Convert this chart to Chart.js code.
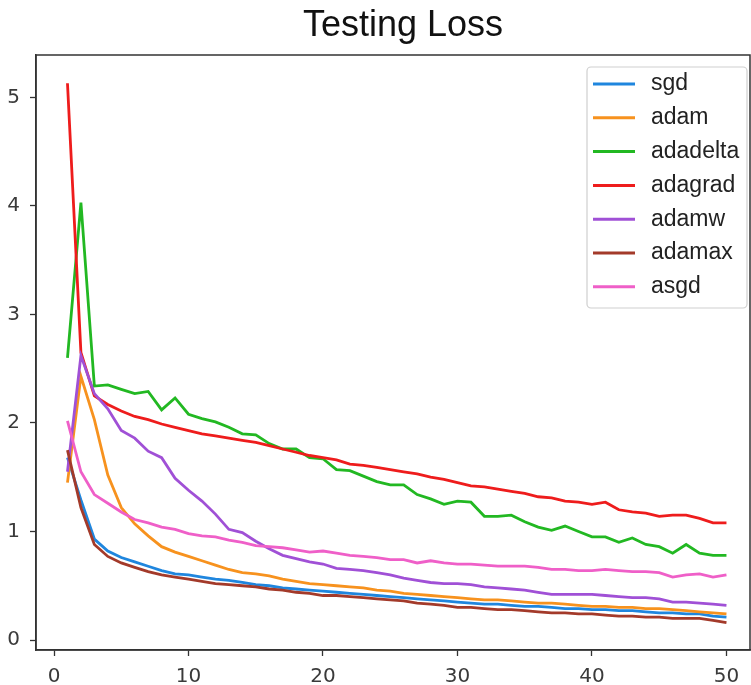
<!DOCTYPE html>
<html>
<head>
<meta charset="utf-8">
<script src="https://cdn.jsdelivr.net/npm/chart.js@4/dist/chart.umd.min.js"></script>
<style>
  html, body { margin: 0; padding: 0; background: #fff; }
  canvas { display: block; }
</style>
</head>
<body>
<canvas id="chart" width="751" height="685"></canvas>
<script>
const epochs = [1, 2, 3, 4, 5, 6, 7, 8, 9, 10, 11, 12, 13, 14, 15, 16, 17, 18, 19, 20,
  21, 22, 23, 24, 25, 26, 27, 28, 29, 30, 31, 32, 33, 34, 35, 36, 37, 38, 39, 40,
  41, 42, 43, 44, 45, 46, 47, 48, 49, 50];

const sgd = [1.68, 1.29, 0.93, 0.82, 0.76, 0.72, 0.68, 0.64, 0.61, 0.60, 0.58, 0.56, 0.55, 0.53, 0.51, 0.50, 0.48, 0.47, 0.46, 0.45,
  0.44, 0.43, 0.42, 0.41, 0.40, 0.39, 0.38, 0.37, 0.36, 0.35, 0.34, 0.33, 0.33, 0.32, 0.31, 0.31, 0.30, 0.29, 0.29, 0.28,
  0.28, 0.27, 0.27, 0.26, 0.25, 0.25, 0.24, 0.24, 0.22, 0.21];
const adam = [1.45, 2.43, 2.03, 1.52, 1.22, 1.07, 0.96, 0.86, 0.81, 0.77, 0.73, 0.69, 0.65, 0.62, 0.61, 0.59, 0.56, 0.54, 0.52, 0.51,
  0.50, 0.49, 0.48, 0.46, 0.45, 0.43, 0.42, 0.41, 0.40, 0.39, 0.38, 0.37, 0.37, 0.36, 0.35, 0.34, 0.34, 0.33, 0.32, 0.31,
  0.31, 0.30, 0.30, 0.29, 0.29, 0.28, 0.27, 0.26, 0.25, 0.24];
const adadelta = [2.60, 4.03, 2.34, 2.35, 2.31, 2.27, 2.29, 2.12, 2.23, 2.08, 2.04, 2.01, 1.96, 1.90, 1.89, 1.81, 1.76, 1.76, 1.68, 1.67,
  1.57, 1.56, 1.51, 1.46, 1.43, 1.43, 1.34, 1.30, 1.25, 1.28, 1.27, 1.14, 1.14, 1.15, 1.09, 1.04, 1.01, 1.05, 1.00, 0.95,
  0.95, 0.90, 0.94, 0.88, 0.86, 0.80, 0.88, 0.80, 0.78, 0.78];
const adagrad = [5.13, 2.65, 2.25, 2.17, 2.11, 2.06, 2.03, 1.99, 1.96, 1.93, 1.90, 1.88, 1.86, 1.84, 1.82, 1.79, 1.76, 1.73, 1.70, 1.68,
  1.66, 1.62, 1.61, 1.59, 1.57, 1.55, 1.53, 1.50, 1.48, 1.45, 1.42, 1.41, 1.39, 1.37, 1.35, 1.32, 1.31, 1.28, 1.27, 1.25,
  1.27, 1.20, 1.18, 1.17, 1.14, 1.15, 1.15, 1.12, 1.08, 1.08];
const adamw = [1.55, 2.62, 2.27, 2.13, 1.93, 1.86, 1.74, 1.68, 1.49, 1.38, 1.28, 1.16, 1.02, 0.99, 0.91, 0.84, 0.78, 0.75, 0.72, 0.70,
  0.66, 0.65, 0.64, 0.62, 0.60, 0.57, 0.55, 0.53, 0.52, 0.52, 0.51, 0.49, 0.48, 0.47, 0.46, 0.44, 0.42, 0.42, 0.42, 0.42,
  0.41, 0.40, 0.39, 0.39, 0.38, 0.35, 0.35, 0.34, 0.33, 0.32];
const adamax = [1.75, 1.22, 0.88, 0.77, 0.71, 0.67, 0.63, 0.60, 0.58, 0.56, 0.54, 0.52, 0.51, 0.50, 0.49, 0.47, 0.46, 0.44, 0.43, 0.41,
  0.41, 0.40, 0.39, 0.38, 0.37, 0.36, 0.34, 0.33, 0.32, 0.30, 0.30, 0.29, 0.28, 0.28, 0.27, 0.26, 0.25, 0.25, 0.24, 0.24,
  0.23, 0.22, 0.22, 0.21, 0.21, 0.20, 0.20, 0.20, 0.18, 0.16];
const asgd = [2.02, 1.55, 1.34, 1.26, 1.18, 1.11, 1.08, 1.04, 1.02, 0.98, 0.96, 0.95, 0.92, 0.90, 0.87, 0.86, 0.85, 0.83, 0.81, 0.82,
  0.80, 0.78, 0.77, 0.76, 0.74, 0.74, 0.71, 0.73, 0.71, 0.70, 0.70, 0.69, 0.68, 0.68, 0.68, 0.67, 0.65, 0.65, 0.64, 0.64,
  0.65, 0.64, 0.63, 0.63, 0.62, 0.58, 0.60, 0.61, 0.58, 0.60];

const seriesNames = ['sgd', 'adam', 'adadelta', 'adagrad', 'adamw', 'adamax', 'asgd'];
const seriesValues = [sgd, adam, adadelta, adagrad, adamw, adamax, asgd];
const seriesColors = ['#1f86de', '#f7921e', '#22b822', '#ee1c1c', '#a050d6', '#a33a2a', '#ef5fc8'];

const xTicks = [0, 10, 20, 30, 40, 50];
const yTicks = [0, 1, 2, 3, 4, 5];

// title drawn centred over the (original, wider) axes
const titlePlugin = {
  id: 'plotTitle',
  afterDraw(chart) {
    const ctx = chart.ctx;
    ctx.save();
    ctx.font = '36px "Liberation Sans", Arial, sans-serif';
    ctx.fillStyle = '#111';
    ctx.textAlign = 'center';
    ctx.textBaseline = 'middle';
    ctx.fillText('Testing Loss', 403, 26);
    ctx.restore();
  }
};

// frame on all four sides, like matplotlib spines
const framePlugin = {
  id: 'frame',
  afterDatasetsDraw(chart) {
    const a = chart.chartArea;
    const ctx = chart.ctx;
    ctx.save();
    ctx.strokeStyle = '#333';
    ctx.lineWidth = 1.5;
    ctx.strokeRect(a.left, a.top, a.right - a.left, a.bottom - a.top);
    ctx.restore();
  }
};

// legend box in the upper right corner of the plot
const legendPlugin = {
  id: 'boxLegend',
  afterDraw(chart) {
    const ctx = chart.ctx;
    ctx.save();
    ctx.fillStyle = '#fff';
    ctx.strokeStyle = '#cfcfcf';
    ctx.lineWidth = 1.2;
    ctx.beginPath();
    ctx.roundRect(587, 67, 160, 241, 4);
    ctx.fill();
    ctx.stroke();
    ctx.font = '23px "Liberation Sans", Arial, sans-serif';
    ctx.textBaseline = 'middle';
    chart.data.datasets.forEach((ds, i) => {
      const y = 84 + i * 33.8;
      ctx.strokeStyle = ds.borderColor;
      ctx.lineWidth = 3;
      ctx.beginPath();
      ctx.moveTo(593, y);
      ctx.lineTo(635, y);
      ctx.stroke();
      ctx.fillStyle = '#222';
      ctx.fillText(ds.label, 651, y);
    });
    ctx.restore();
  }
};

const datasets = seriesNames.map((name, i) => ({
  label: name,
  data: epochs.map((e, k) => ({ x: e, y: seriesValues[i][k] })),
  borderColor: seriesColors[i],
  backgroundColor: seriesColors[i],
  borderWidth: 2.8,
  pointRadius: 0,
  tension: 0,
  fill: false,
  order: seriesNames.length - i
}));

const tickFont = { family: '"DejaVu Sans", sans-serif', size: 20 };

new Chart(document.getElementById('chart'), {
  type: 'line',
  data: { datasets },
  options: {
    responsive: false,
    animation: false,
    layout: { padding: { top: 55, right: 1, left: 0, bottom: 0 } },
    plugins: {
      legend: { display: false },
      title: { display: false },
      tooltip: { enabled: false }
    },
    scales: {
      x: {
        type: 'linear',
        min: -1.34,
        max: 51.75,
        afterBuildTicks: s => { s.ticks = xTicks.map(v => ({ value: v })); },
        afterFit: s => { s.height = 35; },
        grid: { drawOnChartArea: false, tickLength: 6, color: '#333', tickWidth: 1.3 },
        border: { color: '#333', width: 1.5 },
        ticks: { font: tickFont, color: '#3a3a3a', padding: 9, maxRotation: 0, autoSkip: false }
      },
      y: {
        min: -0.092,
        max: 5.39,
        afterBuildTicks: s => { s.ticks = yTicks.map(v => ({ value: v })); },
        afterFit: s => { s.width = 36; },
        grid: { drawOnChartArea: false, tickLength: 6, color: '#333', tickWidth: 1.3 },
        border: { color: '#333', width: 1.5 },
        ticks: { font: tickFont, color: '#3a3a3a', padding: 10, autoSkip: false }
      }
    }
  },
  plugins: [framePlugin, legendPlugin, titlePlugin]
});
</script>
</body>
</html>
